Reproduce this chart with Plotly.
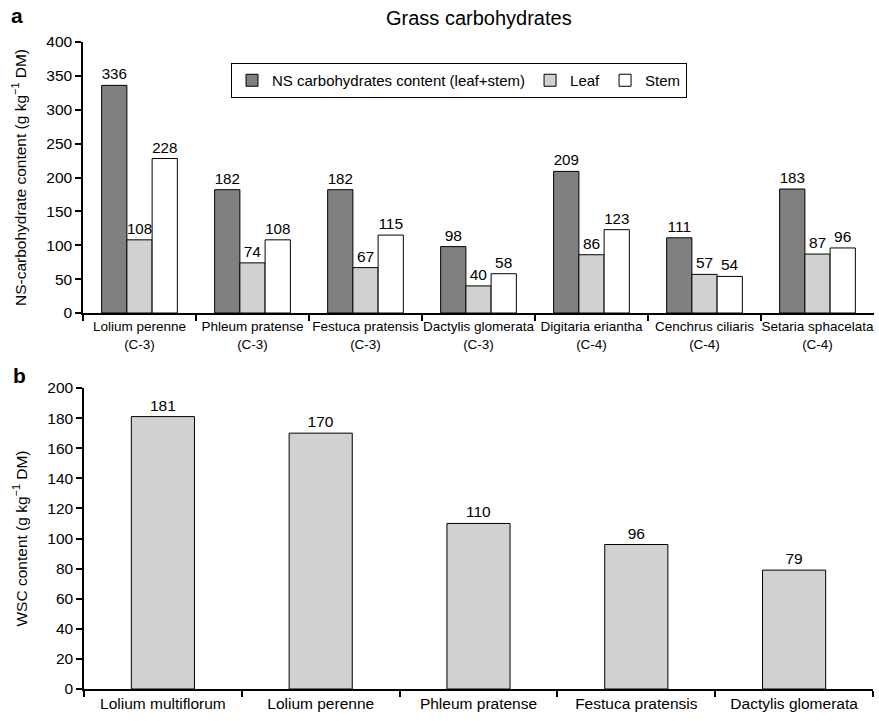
import plotly.graph_objects as go

W, H = 879, 721

# Panel a data
cats_a = ["Lolium perenne<br>(C-3)", "Phleum pratense<br>(C-3)", "Festuca pratensis<br>(C-3)",
          "Dactylis glomerata<br>(C-3)", "Digitaria eriantha<br>(C-4)", "Cenchrus ciliaris<br>(C-4)",
          "Setaria sphacelata<br>(C-4)"]
ns_total = [336, 182, 182, 98, 209, 111, 183]
leaf = [108, 74, 67, 40, 86, 57, 87]
stem = [228, 108, 115, 58, 123, 54, 96]

# Panel b data
cats_b = ["Lolium multiflorum", "Lolium perenne", "Phleum pratense", "Festuca pratensis", "Dactylis glomerata"]
wsc = [181, 170, 110, 96, 79]

FONT = "Liberation Sans, Arial, sans-serif"
DARK = "#808080"
LIGHT = "#d0d2d0"

fig = go.Figure()
line = dict(color="black", width=1)
tf = dict(family=FONT, size=15.5, color="black")

fig.add_trace(go.Bar(x=cats_a, y=ns_total, name="NS carbohydrates content (leaf+stem)",
                     marker=dict(color=DARK, line=line), text=ns_total, textposition="outside",
                     textfont=tf, cliponaxis=False, xaxis="x", yaxis="y"))
fig.add_trace(go.Bar(x=cats_a, y=leaf, name="Leaf",
                     marker=dict(color=LIGHT, line=line), text=leaf, textposition="outside",
                     textfont=tf, cliponaxis=False, xaxis="x", yaxis="y"))
fig.add_trace(go.Bar(x=cats_a, y=stem, name="Stem",
                     marker=dict(color="white", line=line), text=stem, textposition="outside",
                     textfont=tf, cliponaxis=False, xaxis="x", yaxis="y"))
fig.add_trace(go.Bar(x=cats_b, y=wsc, name="WSC", showlegend=False,
                     marker=dict(color=LIGHT, line=line), text=wsc, textposition="outside",
                     textfont=tf, cliponaxis=False, xaxis="x2", yaxis="y2", width=0.4))

def px_x(p):
    return p / W

def px_y(p):
    return 1 - p / H

axcommon = dict(showgrid=False, zeroline=False, showline=True, linecolor="black", linewidth=1.5,
                ticks="outside", tickcolor="black", tickwidth=1.5, ticklen=6,
                tickfont=dict(family=FONT, size=15.5, color="black"))

fig.update_layout(
    width=W, height=H,
    margin=dict(l=0, r=0, t=0, b=0, autoexpand=False),
    paper_bgcolor="white", plot_bgcolor="white",
    barmode="group", bargap=0.33, bargroupgap=0,
    font=dict(family=FONT, size=15, color="black"),
    xaxis=dict(axcommon, domain=[px_x(83), px_x(874)], anchor="y", tickson="boundaries",
               tickangle=0, tickfont=dict(family=FONT, size=13.5, color="black")),
    yaxis=dict(axcommon, domain=[px_y(313), px_y(42)], anchor="x", range=[0, 400], dtick=50,
               title=dict(text="NS-carbohydrate content (g kg<sup>−1</sup> DM)",
                          font=dict(family=FONT, size=15.5, color="black"), standoff=16)),
    xaxis2=dict(axcommon, domain=[px_x(84), px_x(873)], anchor="y2", tickson="boundaries",
                tickangle=0, tickfont=dict(family=FONT, size=15.5, color="black")),
    yaxis2=dict(axcommon, domain=[px_y(689), px_y(388)], anchor="x2", range=[0, 200], dtick=20,
                title=dict(text="WSC content (g kg<sup>−1</sup> DM)",
                           font=dict(family=FONT, size=15.5, color="black"), standoff=16)),
    legend=dict(orientation="h", x=px_x(459), y=px_y(63), xanchor="center", yanchor="top",
                bordercolor="black", borderwidth=1, bgcolor="white",
                font=dict(family=FONT, size=15, color="black"), itemwidth=30,
                traceorder="normal"),
    showlegend=True,
    annotations=[
        dict(text="<b>a</b>", x=px_x(17), y=px_y(16), xref="paper", yref="paper", showarrow=False,
             xanchor="center", yanchor="middle", font=dict(family=FONT, size=21, color="black")),
        dict(text="<b>b</b>", x=px_x(19), y=px_y(375), xref="paper", yref="paper", showarrow=False,
             xanchor="center", yanchor="middle", font=dict(family=FONT, size=21, color="black")),
        dict(text="Grass carbohydrates", x=px_x(479), y=px_y(18), xref="paper", yref="paper",
             showarrow=False, xanchor="center", yanchor="middle",
             font=dict(family=FONT, size=20, color="black")),
    ],
)

fig.write_html("out.html", config={"displayModeBar": False},
               post_script="document.body.style.margin='0px';")
